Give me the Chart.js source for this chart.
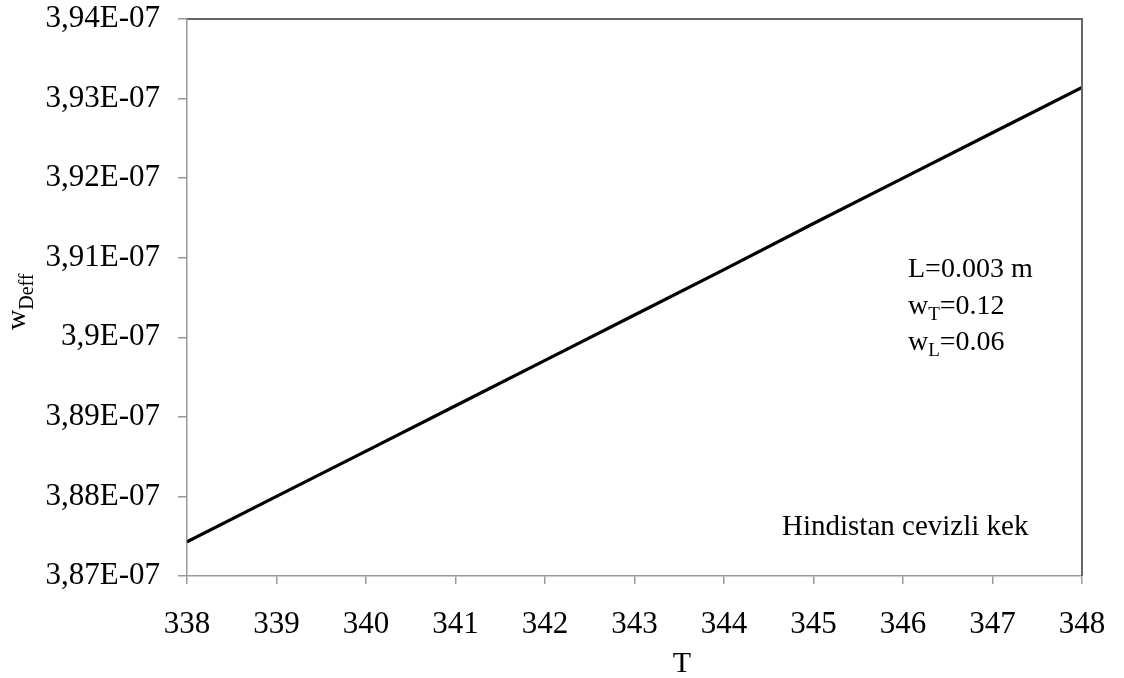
<!DOCTYPE html>
<html lang="tr">
<head>
<meta charset="UTF-8">
<title>wDeff - T</title>
<script src="https://cdn.jsdelivr.net/npm/chart.js"></script>
<style>
  html, body { margin: 0; padding: 0; background: #fff; }
  #wrap { width: 1124px; height: 678px; }
</style>
</head>
<body>
<div id="wrap"><canvas id="chart" width="1124" height="678"></canvas></div>
<script>
// values
const temps = [338, 339, 340, 341, 342, 343, 344, 345, 346, 347, 348];
const wDeff = [3.8743e-7, 3.8800e-7, 3.8857e-7, 3.8914e-7, 3.8971e-7, 3.9028e-7,
               3.9085e-7, 3.9143e-7, 3.9200e-7, 3.9257e-7, 3.9314e-7];
const yMin = 3.87e-7, yMax = 3.94e-7, yStep = 0.01e-7;
const xMin = 338, xMax = 348;

const serif = "'Liberation Serif', 'Times New Roman', serif";

function fmtE(v) {
  // 3.94e-7 -> "3,94E-07"
  const m = Math.round(v * 1e9) / 100;
  return String(m).replace('.', ',') + 'E-07';
}

// draws text with a subscript part: pieces = [[text, size, dy], ...]
function drawPieces(ctx, pieces, x, y) {
  let cx = x;
  pieces.forEach(p => {
    ctx.font = p[1] + 'px ' + serif;
    ctx.fillText(p[0], cx, y + p[2]);
    cx += ctx.measureText(p[0]).width;
  });
}

const decor = {
  id: 'decor',
  afterDraw(chart) {
    const ctx = chart.ctx, a = chart.chartArea;
    ctx.save();
    // top and right frame
    ctx.strokeStyle = '#666';
    ctx.lineWidth = 2;
    ctx.beginPath();
    ctx.moveTo(a.left, a.top);
    ctx.lineTo(a.right, a.top);
    ctx.lineTo(a.right, a.bottom);
    ctx.stroke();

    ctx.fillStyle = '#000';
    ctx.textBaseline = 'alphabetic';
    ctx.textAlign = 'left';
    // annotations
    drawPieces(ctx, [['L=0.003 m', 28, 0]], 908, 277);
    drawPieces(ctx, [['w', 28, 0], ['T', 19, 6], ['=0.12', 28, 0]], 908, 314);
    drawPieces(ctx, [['w', 28, 0], ['L', 19, 6], ['=0.06', 28, 0]], 908, 350);
    drawPieces(ctx, [['Hindistan cevizli kek', 29, 0]], 782, 535);

    // x axis title
    ctx.textAlign = 'center';
    ctx.font = '30px ' + serif;
    ctx.fillText('T', 682, 672);

    // y axis title, rotated
    ctx.textAlign = 'left';
    ctx.translate(25, 330);
    ctx.rotate(-Math.PI / 2);
    drawPieces(ctx, [['w', 28, 0], ['Deff', 20, 8]], 0, 0);
    ctx.restore();
  }
};

new Chart(document.getElementById('chart'), {
  type: 'line',
  data: {
    datasets: [{
      data: temps.map((t, i) => ({ x: t, y: wDeff[i] })),
      borderColor: '#000',
      borderWidth: 3.2,
      pointRadius: 0,
      tension: 0,
      fill: false
    }]
  },
  options: {
    responsive: false,
    animation: false,
    layout: { padding: { top: 19, right: 42, left: 0, bottom: 0 } },
    plugins: { legend: { display: false }, tooltip: { enabled: false } },
    scales: {
      x: {
        type: 'linear',
        min: xMin, max: xMax,
        afterFit(s) { s.height = 102; s.paddingLeft = 0; s.paddingRight = 0; },
        grid: { drawOnChartArea: false, tickLength: 8, color: '#999', lineWidth: 1.5 },
        border: { color: '#999', width: 1.5 },
        ticks: {
          stepSize: 1,
          padding: 22,
          color: '#000',
          font: { family: serif, size: 31 }
        }
      },
      y: {
        min: yMin, max: yMax,
        afterFit(s) { s.width = 187; s.paddingTop = 0; s.paddingBottom = 0; },
        grid: { drawOnChartArea: false, tickLength: 9, color: '#999', lineWidth: 1.5 },
        border: { color: '#999', width: 1.5 },
        ticks: {
          stepSize: yStep,
          padding: 18,
          color: '#000',
          font: { family: serif, size: 31 },
          callback: v => fmtE(v)
        }
      }
    }
  },
  plugins: [decor]
});
</script>
</body>
</html>
